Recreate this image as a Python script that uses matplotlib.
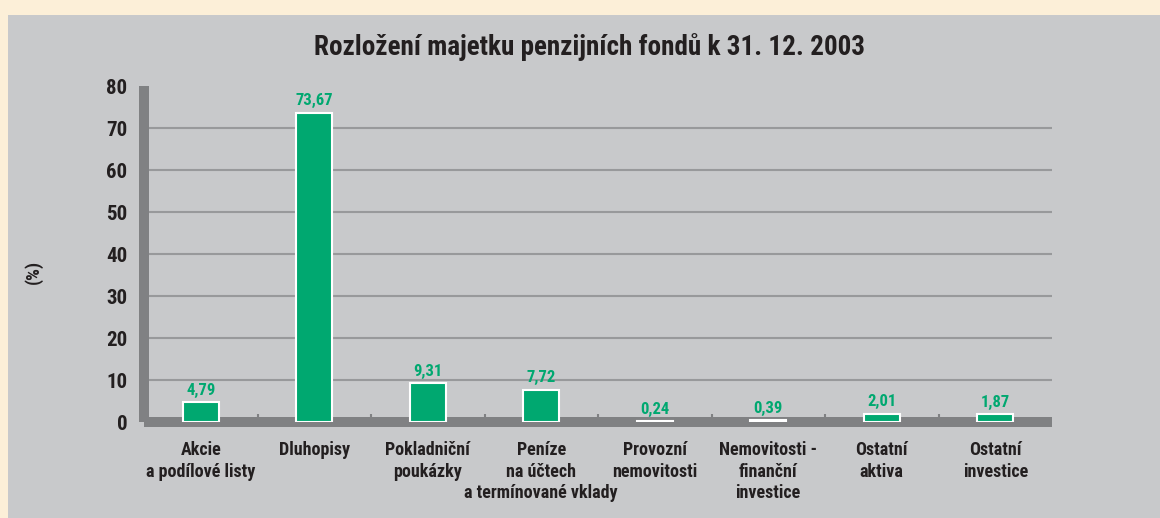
import matplotlib
matplotlib.use("Agg")
import matplotlib.pyplot as plt
from matplotlib.patches import Rectangle
import numpy as np

categories = [
    "Akcie\na podílové listy",
    "Dluhopisy",
    "Pokladniční\npoukázky",
    "Peníze\nna účtech\na termínované vklady",
    "Provozní\nnemovitosti",
    "Nemovitosti -\nfinanční\ninvestice",
    "Ostatní\naktiva",
    "Ostatní\ninvestice",
]
values = [4.79, 73.67, 9.31, 7.72, 0.24, 0.39, 2.01, 1.87]
yticks = [0, 10, 20, 30, 40, 50, 60, 70, 80]
title = "Rozložení majetku penzijních fondů k 31. 12. 2003"
ylabel = "(%)"

FONT = ["Liberation Sans Narrow", "Roboto Condensed", "DejaVu Sans"]
plt.rcParams["font.family"] = FONT

GREEN = "#00a870"
PANEL = "#c8c9cb"
AXGRAY = "#808183"
GRID = "#98999b"
TEXT = "#231f20"

W, H = 1160, 518
fig = plt.figure(figsize=(W / 100, H / 100), dpi=100)
fig.patch.set_facecolor("#fcefd8")

# gray panel
fig.patches.append(Rectangle((8 / W, 0), 1 - 8 / W, 1 - 15 / H,
                             transform=fig.transFigure, facecolor=PANEL,
                             edgecolor="none", zorder=-5))

ax = fig.add_axes([144 / W, 96 / H, 908 / W, 336 / H])
ax.set_facecolor("none")
ax.set_zorder(2)

x = np.arange(len(categories))
ax.bar(x, values, width=0.32, color=GREEN, edgecolor="white",
       linewidth=1.5, zorder=3)

for xi, v in zip(x, values):
    ax.annotate(f"{v:.2f}".replace(".", ","), (xi, v), xytext=(0, 3),
                textcoords="offset points", ha="center", va="bottom",
                color=GREEN, fontsize=12, fontweight="bold", zorder=4)

ax.set_xlim(-0.5, len(categories) - 0.5)
ax.set_ylim(0, 80)

for g in yticks[1:-1]:
    ax.axhline(g, color=GRID, linewidth=1.5, zorder=1)

for s in ["top", "right"]:
    ax.spines[s].set_visible(False)
for s in ["left", "bottom"]:
    ax.spines[s].set_color(AXGRAY)
    ax.spines[s].set_linewidth(7.2)
    ax.spines[s].set_capstyle("butt")

ax.set_yticks(yticks)
ax.set_yticklabels([str(t) for t in yticks], fontweight="bold")
ax.tick_params(axis="y", length=0, pad=12, labelsize=15, labelcolor=TEXT)

ax.set_xticks(x)
ax.set_xticklabels(categories, fontsize=13, fontweight="bold",
                   color=TEXT, linespacing=1.25)
ax.tick_params(axis="x", which="major", length=0, pad=14)
ax.set_xticks(x[:-1] + 0.5, minor=True)
ax.tick_params(axis="x", which="minor", direction="in", length=5.5,
               width=1.5, color=AXGRAY)

fig.text(590 / W, 1 - 47 / H, title, ha="center", va="center",
         fontsize=19.5, fontweight="bold", color=TEXT)
fig.text(33 / W, 1 - 272 / H, ylabel, ha="center", va="center",
         rotation=90, fontsize=13.5, fontweight="bold", color=TEXT)

fig.savefig("out.png", dpi=100, facecolor=fig.get_facecolor())
